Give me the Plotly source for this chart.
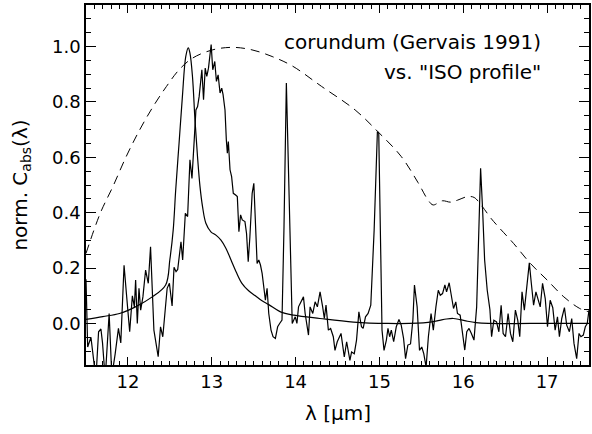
import plotly.graph_objects as go

# Measured corundum spectrum (noisy laboratory curve)
wl_meas = [
    11.50, 11.520, 11.559, 11.587, 11.618, 11.650, 11.678, 11.697, 11.729, 11.776,
    11.808, 11.848, 11.887, 11.915, 11.954, 11.982, 12.021, 12.053, 12.077, 12.092,
    12.112, 12.132, 12.152, 12.179, 12.211, 12.243, 12.270, 12.310, 12.361, 12.389,
    12.416, 12.468, 12.495, 12.527, 12.550, 12.574, 12.594, 12.633, 12.653, 12.685,
    12.712, 12.740, 12.764, 12.791, 12.811, 12.831, 12.850, 12.882, 12.902, 12.922,
    12.941, 12.961, 12.993, 13.012, 13.036, 13.056, 13.076, 13.099, 13.119, 13.135,
    13.158, 13.174, 13.186, 13.198, 13.218, 13.237, 13.257, 13.285, 13.305, 13.324,
    13.344, 13.364, 13.396, 13.415, 13.435, 13.455, 13.482, 13.502, 13.541, 13.561,
    13.581, 13.601, 13.620, 13.640, 13.660, 13.680, 13.707, 13.731, 13.759, 13.786,
    13.810, 13.838, 13.862, 13.890, 13.960, 13.996, 14.016, 14.035, 14.094, 14.114,
    14.154, 14.173, 14.205, 14.233, 14.260, 14.292, 14.323, 14.343, 14.363, 14.391,
    14.418, 14.450, 14.470, 14.497, 14.542, 14.581, 14.609, 14.648, 14.668, 14.700,
    14.727, 14.755, 14.786, 14.806, 14.834, 14.865, 14.897, 14.937, 14.976, 14.992,
    15.031, 15.055, 15.083, 15.102, 15.122, 15.142, 15.170, 15.201, 15.233, 15.260,
    15.288, 15.312, 15.339, 15.371, 15.399, 15.418, 15.450, 15.478, 15.505, 15.529,
    15.557, 15.584, 15.616, 15.643, 15.674, 15.702, 15.726, 15.753, 15.781, 15.801,
    15.832, 15.852, 15.884, 15.911, 15.931, 15.963, 15.990, 16.018, 16.042, 16.069,
    16.097, 16.128, 16.160, 16.188, 16.207, 16.231, 16.255, 16.286, 16.318, 16.338,
    16.365, 16.397, 16.425, 16.452, 16.476, 16.504, 16.535, 16.563, 16.591, 16.622,
    16.650, 16.674, 16.701, 16.729, 16.760, 16.788, 16.812, 16.839, 16.867, 16.891,
    16.918, 16.946, 16.978, 17.005, 17.037, 17.068, 17.096, 17.124, 17.147, 17.175,
    17.207, 17.234, 17.266, 17.294, 17.321, 17.353, 17.381, 17.404, 17.432, 17.456,
    17.479, 17.500,
]
c_meas = [
    0.160, -0.085, -0.050, -0.115, -0.200, -0.030, -0.020, -0.070, -0.200, 0.036,
    -0.190, -0.110, -0.018, -0.070, 0.210, 0.108, -0.030, 0.100, 0.060, 0.157,
    0.000, 0.127, 0.048, 0.096, 0.193, 0.145, 0.277, -0.024, -0.120, -0.012,
    -0.048, 0.127, 0.145, 0.063, 0.203, 0.187, 0.195, 0.295, 0.229, 0.398,
    0.386, 0.591, 0.524, 0.663, 0.771, 0.783, 0.820, 0.916, 0.808, 0.922,
    0.892, 0.922, 1.007, 0.916, 0.946, 0.874, 0.898, 0.832, 0.850, 0.826,
    0.771, 0.663, 0.615, 0.657, 0.555, 0.530, 0.470, 0.464, 0.458, 0.331,
    0.392, 0.374, 0.368, 0.325, 0.223, 0.313, 0.470, 0.506, 0.217, 0.229,
    0.211, 0.181, 0.120, 0.084, 0.127, 0.036, -0.024, -0.048, -0.054, -0.012,
    0.000, 0.012, 0.350, 0.868, 0.000, 0.024, 0.000, 0.060, 0.096, 0.036,
    -0.042, 0.060, 0.036, 0.078, 0.060, 0.114, 0.060, 0.018, 0.066, -0.024,
    -0.018, -0.048, -0.097, -0.066, -0.036, -0.121, -0.066, -0.133, -0.103, -0.109,
    -0.060, 0.042, -0.012, -0.018, 0.024, 0.036, 0.066, 0.337, 0.693, 0.687,
    -0.024, -0.097, -0.060, -0.018, -0.048, -0.024, -0.066, -0.012, 0.014, -0.006,
    -0.054, -0.127, -0.078, -0.074, 0.012, 0.139, 0.060, -0.097, -0.085, -0.109,
    -0.157, -0.048, 0.036, -0.024, 0.060, 0.120, 0.102, 0.108, 0.139, 0.114,
    0.147, 0.108, 0.054, 0.078, 0.036, 0.030, -0.030, -0.096, -0.030, -0.018,
    -0.036, -0.060, 0.060, 0.325, 0.560, 0.410, 0.229, 0.120, 0.050, -0.048,
    0.012, 0.006, -0.030, 0.066, -0.036, -0.048, 0.036, -0.036, -0.066, 0.048,
    0.012, -0.048, 0.114, 0.048, 0.145, 0.219, 0.145, 0.066, 0.114, 0.084,
    0.060, 0.145, 0.090, -0.012, 0.084, 0.057, -0.024, 0.024, -0.048, 0.018,
    0.057, -0.006, -0.030, 0.018, -0.072, -0.127, -0.036, -0.048, -0.042, -0.012,
    0.000, 0.048,
]

# Smooth model absorption profile of corundum
wl_model = [
    11.50, 11.70, 11.90, 12.09, 12.29, 12.45, 12.50, 12.54, 12.57, 12.61,
    12.65, 12.69, 12.72, 12.74, 12.77, 12.80, 12.83, 12.86, 12.89, 12.93,
    12.99, 13.05, 13.11, 13.17, 13.23, 13.29, 13.36, 13.44, 13.52, 13.60,
    13.68, 13.82, 13.98, 14.29, 14.69, 15.10, 15.46, 15.58, 15.70, 15.80,
    15.88, 15.96, 16.05, 16.15, 16.30, 16.80, 17.50,
]
c_model = [
    0.015, 0.025, 0.036, 0.060, 0.096, 0.139, 0.230, 0.337, 0.482, 0.651,
    0.820, 0.964, 0.995, 0.976, 0.892, 0.735, 0.603, 0.494, 0.422, 0.362,
    0.331, 0.319, 0.301, 0.271, 0.229, 0.187, 0.145, 0.118, 0.100, 0.082,
    0.068, 0.042, 0.030, 0.018, 0.005, 0.000, 0.001, 0.004, 0.010, 0.016,
    0.018, 0.014, 0.008, 0.003, 0.000, 0.000, 0.000,
]

# "ISO profile" (dashed)
wl_iso = [
    11.50, 11.67, 11.82, 11.98, 12.14, 12.30, 12.46, 12.61, 12.77, 13.01,
    13.25, 13.48, 13.72, 13.96, 14.31, 14.71, 14.98, 15.26, 15.46, 15.58,
    15.64, 15.75, 15.85, 15.93, 16.05, 16.13, 16.22, 16.33, 16.41, 16.60,
    16.80, 17.00, 17.20, 17.39, 17.50,
]
c_iso = [
    0.253, 0.398, 0.494, 0.603, 0.699, 0.783, 0.856, 0.916, 0.958, 0.988,
    0.997, 0.988, 0.964, 0.930, 0.856, 0.771, 0.693, 0.603, 0.509, 0.446,
    0.428, 0.443, 0.438, 0.445, 0.458, 0.455, 0.425, 0.380, 0.352, 0.289,
    0.217, 0.157, 0.096, 0.054, 0.042,
]

FONT = "DejaVu Sans"
TICK_FONT = dict(family=FONT, size=18, color="black")
TEXT_FONT = dict(family=FONT, size=20, color="black")

fig = go.Figure()
fig.add_trace(go.Scatter(x=wl_iso, y=c_iso, mode="lines",
                         line=dict(color="black", width=1, dash="9px,6px"),
                         line_shape="spline"))
fig.add_trace(go.Scatter(x=wl_model, y=c_model, mode="lines",
                         line=dict(color="black", width=1.2),
                         line_shape="spline"))
fig.add_trace(go.Scatter(x=wl_meas, y=c_meas, mode="lines",
                         line=dict(color="black", width=1.2)))

axis_common = dict(
    showline=True, linecolor="black", linewidth=1.5, mirror="allticks",
    ticks="inside", tickcolor="black", tickwidth=1,
    showgrid=False, zeroline=False,
    tickfont=TICK_FONT,
)

fig.update_xaxes(range=[11.5, 17.5], dtick=1, ticklen=8,
                 minor=dict(dtick=0.1, ticklen=4, ticks="inside", tickcolor="black"),
                 **axis_common)
fig.update_yaxes(range=[-0.15, 1.15], dtick=0.2, tickformat=".1f", ticklen=10,
                 minor=dict(dtick=0.05, ticklen=5, ticks="inside", tickcolor="black"),
                 **axis_common)

annotations = [
    dict(text="corundum (Gervais 1991)", x=16.95, y=1.017, xref="x", yref="y",
         xanchor="right", yanchor="middle", showarrow=False, font=TEXT_FONT),
    dict(text="vs. \"ISO profile\"", x=16.95, y=0.909, xref="x", yref="y",
         xanchor="right", yanchor="middle", showarrow=False, font=TEXT_FONT),
    dict(text="λ [μm]", x=0.5, y=-0.133, xref="paper", yref="paper",
         xanchor="center", yanchor="middle", showarrow=False, font=TEXT_FONT),
    dict(text="norm. C<sub>abs</sub>(λ)", x=-0.13, y=0.5, xref="paper", yref="paper",
         xanchor="center", yanchor="middle", textangle=-90, showarrow=False,
         font=TEXT_FONT),
]

fig.update_layout(
    width=592, height=434,
    margin=dict(l=86, r=1, t=5, b=69),
    paper_bgcolor="white", plot_bgcolor="white",
    showlegend=False,
    annotations=annotations,
)

fig.write_html("out.html")
